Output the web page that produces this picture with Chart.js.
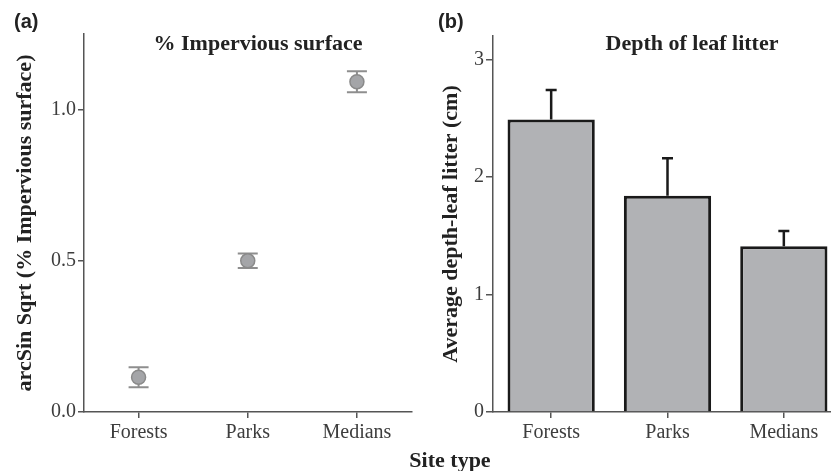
<!DOCTYPE html>
<html>
<head>
<meta charset="utf-8">
<script src="https://cdn.jsdelivr.net/npm/chart.js@4/dist/chart.umd.min.js"></script>
<style>
  html, body { margin:0; padding:0; background:#fff; width:831px; height:471px; overflow:hidden; position:relative; }
  canvas { position:absolute; top:0; }
  .lbl { position:absolute; white-space:nowrap; color:#222; }
  .serif { font-family:"Liberation Serif","Times New Roman",serif; font-weight:bold; }
  .sans { font-family:"Liberation Sans",Arial,sans-serif; font-weight:bold; }
</style>
</head>
<body>
<canvas id="cA" width="420" height="471" style="left:0px"></canvas>
<canvas id="cB" width="440" height="471" style="left:420px"></canvas>
<div class="lbl sans" style="left:14px; top:10px; font-size:20px;">(a)</div>
<div class="lbl sans" style="left:438px; top:10px; font-size:20px;">(b)</div>
<div class="lbl serif" style="left:258px; top:43px; font-size:22px; transform:translate(-50%,-50%);">% Impervious surface</div>
<div class="lbl serif" style="left:692px; top:43px; font-size:22px; transform:translate(-50%,-50%);">Depth of leaf litter</div>
<div class="lbl serif" style="left:450px; top:460px; font-size:22px; transform:translate(-50%,-50%);">Site type</div>
<script>
// ---- data ----
const categories = ['Forests', 'Parks', 'Medians'];
const impervMean = [0.115, 0.50, 1.092];
const impervErr  = [0.033, 0.024, 0.035];
const litterMean = [2.49, 1.84, 1.41];
const litterErr  = [0.25, 0.32, 0.13];
const impervTicks = [0, 0.5, 1.0];
const litterTicks = [0, 1, 2, 3];

Chart.defaults.animation = false;
Chart.defaults.devicePixelRatio = 1;
Chart.defaults.font.family = '"Liberation Serif","Times New Roman",serif';

const tickFont = { size: 20 };
const axisColor = '#555';

function errorBarPlugin(id, means, errs, opts) {
  const hook = opts.behind ? 'beforeDatasetsDraw' : 'afterDatasetsDraw';
  return {
    id,
    [hook](chart) {
      const ctx = chart.ctx;
      const meta = chart.getDatasetMeta(0);
      const ys = chart.scales.y;
      ctx.save();
      ctx.strokeStyle = opts.color;
      ctx.lineWidth = opts.width;
      meta.data.forEach((el, i) => {
        const x = el.x;
        const yHi = ys.getPixelForValue(means[i] + errs[i]);
        const yLo = opts.upOnly ? ys.getPixelForValue(means[i]) : ys.getPixelForValue(means[i] - errs[i]);
        ctx.beginPath();
        ctx.moveTo(x, yLo); ctx.lineTo(x, yHi);
        ctx.moveTo(x - opts.cap / 2, yHi); ctx.lineTo(x + opts.cap / 2, yHi);
        if (!opts.upOnly) { ctx.moveTo(x - opts.cap / 2, yLo); ctx.lineTo(x + opts.cap / 2, yLo); }
        ctx.stroke();
      });
      ctx.restore();
    }
  };
}

function yAxis(max, ticksArr, width, title, titlePad, fmt, tickLen) {
  return {
    min: 0, max: max,
    afterBuildTicks: s => { s.ticks = ticksArr.map(v => ({ value: v })); },
    afterFit: s => { s.width = width; },
    ticks: { font: tickFont, color: '#3d3d3d', padding: 2, callback: fmt },
    grid: { drawOnChartArea: false, drawTicks: true, tickLength: tickLen, color: axisColor, lineWidth: 1.5 },
    border: { display: true, color: axisColor, width: 1.5 },
    title: { display: true, text: title, color: '#222', font: { size: 22, weight: 'bold' }, padding: { top: titlePad, bottom: 0 } }
  };
}

function xAxis() {
  return {
    type: 'category',
    offset: true,
    afterFit: s => { s.height = 59; },
    ticks: { font: tickFont, color: '#3d3d3d', padding: 3, maxRotation: 0 },
    grid: { offset: false, drawOnChartArea: false, drawTicks: true, tickLength: 6, color: axisColor, lineWidth: 1.5 },
    border: { display: true, color: axisColor, width: 1.5 }
  };
}

new Chart(document.getElementById('cA'), {
  type: 'line',
  data: {
    labels: categories,
    datasets: [{
      data: impervMean,
      showLine: false,
      pointRadius: 7,
      pointBackgroundColor: '#a4a5a8',
      pointBorderColor: '#8a8a8a',
      pointBorderWidth: 1.5
    }]
  },
  options: {
    responsive: false,
    layout: { padding: { left: 0, top: 34, right: 8, bottom: 0 } },
    plugins: { legend: { display: false }, tooltip: { enabled: false } },
    scales: {
      x: xAxis(),
      y: yAxis(1.25, impervTicks, 84, 'arcSin Sqrt (% Impervious surface)', 12, v => Number(v).toFixed(1), 6)
    }
  },
  plugins: [errorBarPlugin('errA', impervMean, impervErr, { behind: true, color: '#8e8e8e', width: 2, cap: 20, upOnly: false })]
});

new Chart(document.getElementById('cB'), {
  type: 'bar',
  data: {
    labels: categories,
    datasets: [{
      data: litterMean,
      backgroundColor: '#b1b2b5',
      borderColor: '#1a1a1a',
      borderWidth: 3,
      barPercentage: 0.75,
      categoryPercentage: 1.0
    }]
  },
  options: {
    responsive: false,
    layout: { padding: { left: 0, top: 36, right: 18, bottom: 0 } },
    plugins: { legend: { display: false }, tooltip: { enabled: false } },
    scales: {
      x: xAxis(),
      y: yAxis(3.2, litterTicks, 73, 'Average depth-leaf litter (cm)', 18, v => String(v), 7)
    }
  },
  plugins: [errorBarPlugin('errB', litterMean, litterErr, { behind: false, color: '#1a1a1a', width: 2.5, cap: 11, upOnly: true })]
});
</script>
</body>
</html>
